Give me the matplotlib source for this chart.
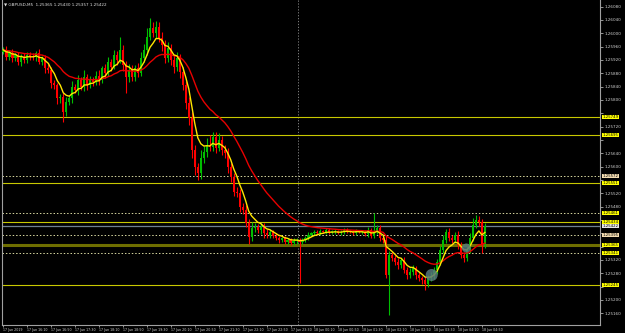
import matplotlib
matplotlib.use("Agg")
import matplotlib.pyplot as plt
import numpy as np
import pandas as pd

symbol = "GBPUSD,M5"

close = [
 1.25950, 1.25930, 1.25940, 1.25925, 1.25935, 1.25915, 1.25930, 1.25920, 1.25935, 1.25930,
 1.25929, 1.25940, 1.25915, 1.25925, 1.25895, 1.25890, 1.25850, 1.25845, 1.25805, 1.25810,
 1.25765, 1.25795, 1.25805, 1.25840, 1.25830, 1.25860, 1.25840, 1.25870, 1.25845, 1.25860,
 1.25854, 1.25872, 1.25860, 1.25895, 1.25880, 1.25915, 1.25900, 1.25935, 1.25920, 1.25950,
 1.25905, 1.25870, 1.25890, 1.25870, 1.25895, 1.25880, 1.25925, 1.25950, 1.25990, 1.26015,
 1.26000, 1.26020, 1.25985, 1.25965, 1.25925, 1.25955, 1.25920, 1.25900, 1.25925, 1.25885,
 1.25845, 1.25790, 1.25745, 1.25650, 1.25600, 1.25580, 1.25625, 1.25645, 1.25665, 1.25660,
 1.25690, 1.25655, 1.25680, 1.25650, 1.25640, 1.25600, 1.25570, 1.25525, 1.25520, 1.25480,
 1.25470, 1.25430, 1.25390, 1.25415, 1.25420, 1.25410, 1.25420, 1.25400, 1.25395, 1.25405,
 1.25392, 1.25386, 1.25380, 1.25386, 1.25374, 1.25380, 1.25371, 1.25377, 1.25380, 1.25374,
 1.25380, 1.25386, 1.25395, 1.25401, 1.25404, 1.25401, 1.25407, 1.25404, 1.25410, 1.25404,
 1.25404, 1.25407, 1.25401, 1.25404, 1.25410, 1.25407, 1.25404, 1.25401, 1.25407, 1.25404,
 1.25404, 1.25398, 1.25410, 1.25392, 1.25404, 1.25416, 1.25386, 1.25380, 1.25275, 1.25335,
 1.25326, 1.25314, 1.25305, 1.25320, 1.25290, 1.25275, 1.25284, 1.25296, 1.25275, 1.25266,
 1.25260, 1.25248, 1.25266, 1.25272, 1.25290, 1.25314, 1.25350, 1.25380, 1.25404, 1.25386,
 1.25380, 1.25395, 1.25365, 1.25335, 1.25326, 1.25350, 1.25386, 1.25425, 1.25440, 1.25434,
 1.25365, 1.25422,
]
first_open = 1.25945

# wick lengths in points (0.00001)
upper_wick = [
 9, 12, 8, 14, 6, 10, 8, 12, 9, 8,
 10, 8, 14, 6, 9, 12, 8, 10, 6, 9,
 12, 15, 9, 18, 8, 14, 10, 20, 9, 12,
 9, 14, 18, 8, 12, 15, 9, 14, 12, 40,
 15, 12, 18, 14, 9, 15, 20, 18, 25, 30,
 20, 18, 15, 20, 14, 18, 12, 15, 18, 14,
 15, 12, 18, 20, 15, 12, 25, 18, 22, 30,
 15, 14, 20, 12, 14, 16, 12, 10, 15, 12,
 10, 14, 12, 18, 10, 8, 12, 10, 14, 8,
 5, 8, 6, 4, 7, 5, 6, 8, 5, 6,
 6, 5, 8, 4, 6, 5, 7, 4, 6, 5,
 5, 6, 4, 7, 5, 6, 4, 5, 6, 4,
 6, 5, 8, 6, 57, 10, 10, 8, 15, 12,
 10, 8, 12, 6, 10, 8, 12, 10, 6, 8,
 6, 8, 10, 12, 8, 10, 12, 15, 10, 12,
 10, 8, 12, 10, 8, 12, 15, 20, 15, 12, 10, 8,
]
lower_wick = [
 8, 10, 9, 12, 8, 9, 14, 8, 10, 9,
 9, 12, 8, 10, 14, 9, 15, 12, 18, 15,
 30, 12, 9, 15, 10, 14, 9, 12, 15, 10,
 12, 9, 14, 10, 15, 9, 12, 8, 14, 10,
 18, 50, 15, 12, 14, 10, 9, 12, 15, 9,
 12, 15, 10, 18, 14, 12, 15, 18, 14, 20,
 15, 18, 20, 25, 24, 20, 18, 14, 16, 12,
 12, 14, 9, 16, 14, 18, 15, 14, 10, 15,
 12, 10, 21, 12, 10, 8, 12, 14, 10, 8,
 6, 5, 8, 6, 5, 7, 6, 5, 8, 123,
 6, 5, 7, 4, 6, 5, 6, 4, 7, 5,
 5, 6, 4, 5, 6, 5, 4, 6, 5, 4,
 6, 5, 8, 6, 5, 6, 8, 10, 10, 120,
 8, 10, 12, 8, 10, 12, 8, 10, 12, 10,
 12, 18, 10, 8, 10, 12, 8, 10, 8, 10,
 8, 10, 12, 10, 12, 8, 10, 8, 10, 12, 24, 8,
]

# horizontal levels
solid_levels = [1.25749, 1.25695, 1.25551, 1.25434, 1.25245]
dotted_levels = [1.25572, 1.25461, 1.25395, 1.25341]
dotted_label_colors = ["#F5DEB3", "#FFFF00", "#F5DEB3", "#FFFF00"]
thick_level = 1.25365
bid_level = close[-1]

circle_x = [143.2, 154.8]
circle_y = [1.25275, 1.25356]
circle_size = [75, 42]

date_labels = ["17 Jun 2019", "17 Jun 16:10", "17 Jun 16:50", "17 Jun 17:30", "17 Jun 18:10",
               "17 Jun 18:50", "17 Jun 19:30", "17 Jun 20:10", "17 Jun 20:50", "17 Jun 21:30",
               "17 Jun 22:10", "17 Jun 22:50", "17 Jun 23:30", "18 Jun 00:10", "18 Jun 00:50",
               "18 Jun 01:30", "18 Jun 02:10", "18 Jun 02:50", "18 Jun 03:30", "18 Jun 04:10",
               "18 Jun 04:50"]
label_every = 8
separator_bar = 98.5

# ---- build OHLC ----
c = np.array(close)
o = np.concatenate([[first_open], c[:-1]])
h = np.maximum(o, c) + np.array(upper_wick) * 1e-5
l = np.minimum(o, c) - np.array(lower_wick) * 1e-5
n = len(c)
x = np.arange(n)

fast = pd.Series(c).ewm(span=6, adjust=False).mean()
slow = pd.Series(c).ewm(span=22, adjust=False).mean()

fig = plt.figure(figsize=(6.25, 3.33), dpi=100, facecolor="black")
ax = fig.add_axes([2 / 625, 8 / 333, 598 / 625, 325 / 333])
ax.set_facecolor("black")
ax.set_xlim(-0.5, 199.5)
ax.set_ylim(1.25125, 1.26100)

bull = c >= o
bull_col = "#00BE00"
bear_col = "#FF0000"
cols = np.where(bull, bull_col, bear_col)
ax.vlines(x, l, h, colors=cols, linewidth=0.8, zorder=3)
body_h = np.maximum(np.abs(c - o), 0.000015)
ax.bar(x, body_h, bottom=np.minimum(o, c), width=0.7, color=cols, linewidth=0, zorder=3)

ax.plot(x, slow, color="#E80000", linewidth=1.0, zorder=4)
ax.plot(x, fast, color="#FFE600", linewidth=1.0, zorder=5)

# levels
for lv in solid_levels:
    ax.axhline(lv, color="#C8C800", linewidth=0.8, zorder=2)
for lv in dotted_levels:
    ax.axhline(lv, color="#D8D8A0", linewidth=0.7, linestyle=(0, (1.5, 2)), zorder=2)
ax.axhline(thick_level, color="#6E6E00", linewidth=2.2, zorder=2)
ax.axhline(bid_level, color="#708090", linewidth=0.9, zorder=2)

ax.axvline(separator_bar, color="#909090", linewidth=0.6, linestyle=(0, (1.5, 2)), zorder=1)

ax.scatter(circle_x, circle_y, s=circle_size, color="#56787C", alpha=0.85, linewidths=0, zorder=6)

# spines
for side in ["left", "right", "bottom", "top"]:
    ax.spines[side].set_color("#A0A0A0")
    ax.spines[side].set_linewidth(0.8)
ax.spines["top"].set_visible(False)

# level labels positions (to hide tick labels covered by them)
all_levels = solid_levels + dotted_levels + [thick_level, bid_level]
px_per_price = 325 / (1.26100 - 1.25125)

# y axis on right
ax.yaxis.tick_right()
yt = np.arange(1.26080, 1.25140, -0.0004)
ax.set_yticks(yt)
ylabels = []
for v in yt:
    covered = any(abs(v - lv) * px_per_price < 5 for lv in all_levels)
    ylabels.append("" if covered else f"{v:.5f}")
ax.set_yticklabels(ylabels)
ax.tick_params(axis="y", colors="#D0D0D0", labelsize=3.0, length=2, width=0.5, pad=1)

xt = np.arange(0, len(date_labels)) * label_every
ax.set_xticks(xt)
ax.set_xticklabels(date_labels, ha="left")
ax.tick_params(axis="x", colors="#D0D0D0", labelsize=2.3, length=1.5, width=0.5, pad=0.5)

# level labels on the right
def level_label(val, fc):
    ax.text(1.004, val, f"{val:.5f}", transform=ax.get_yaxis_transform(),
            fontsize=2.8, color="black", va="center", ha="left", zorder=10,
            bbox=dict(boxstyle="square,pad=0.1", fc=fc, ec="none"), clip_on=False)

for lv in solid_levels:
    level_label(lv, "#FFFF00")
for lv, fc in zip(dotted_levels, dotted_label_colors):
    level_label(lv, fc)
level_label(thick_level, "#FFFF00")
level_label(bid_level, "#E8E8E8")

title = f"\u25BC {symbol}  {o[-1]:.5f} {h[-1]:.5f} {l[-1]:.5f} {c[-1]:.5f}"
fig.text(4 / 625, 1 - 5 / 333, title, fontsize=3.0, color="#E0E0E0", va="center", ha="left")

fig.savefig("out.png", dpi=100, facecolor="black")
